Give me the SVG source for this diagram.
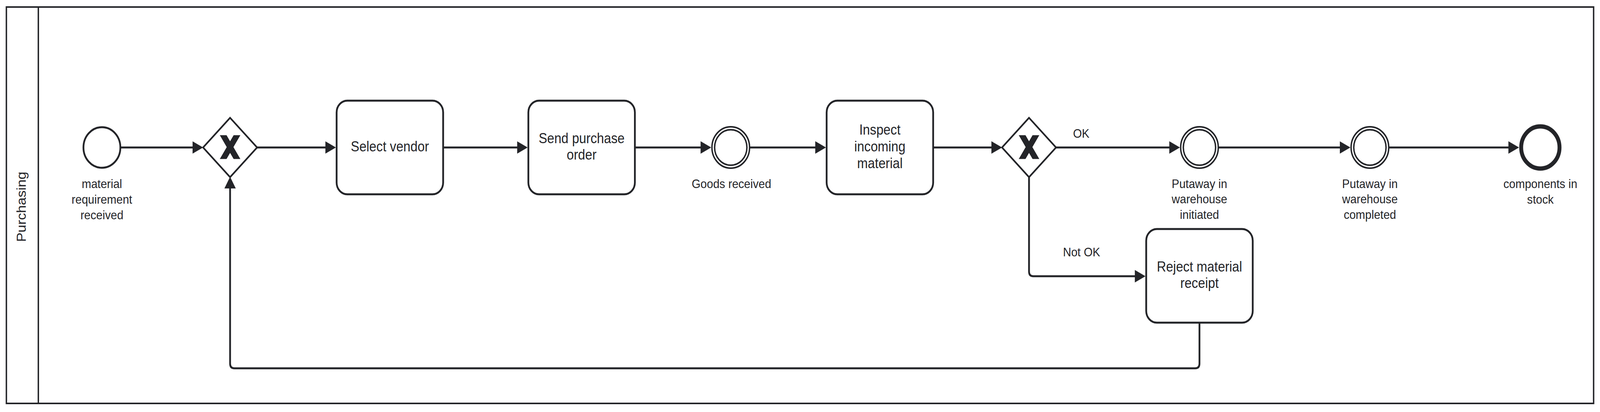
<svg xmlns="http://www.w3.org/2000/svg" xmlns:xlink="http://www.w3.org/1999/xlink" width="4506" height="1056" viewBox="0 0 4506 1056" preserveAspectRatio="none" style="width:100vw;height:100vh">
<style>
  .pool { fill: none; stroke: #232428; stroke-width: 4; }
  .task { fill: #ffffff; stroke: #232428; stroke-width: 5; }
  .gw { fill: #ffffff; stroke: #232428; stroke-width: 4.5; stroke-linejoin: miter; }
  .start { fill: #ffffff; stroke: #232428; stroke-width: 5; }
  .inter { fill: #ffffff; stroke: #232428; stroke-width: 4; }
  .end { fill: #ffffff; stroke: #232428; stroke-width: 11; }
  .flow { fill: none; stroke: #232428; stroke-width: 5; stroke-linejoin: round; marker-end: url(#arrow); }
  .xm { fill: none; stroke: #232428; stroke-width: 16; }
  text { font-family: "Liberation Sans", Arial, sans-serif; fill: #232428; text-anchor: middle; }
  .t36 { font-size: 36px; }
  .t32 { font-size: 32px; }
</style>
<defs>
  <marker id="arrow" markerUnits="userSpaceOnUse" markerWidth="30" markerHeight="32" refX="5" refY="16" orient="auto" viewBox="0 0 30 32">
    <path d="M0,0 L30,16 L0,32 Z" fill="#232428"/>
  </marker>
  <clipPath id="xclip"><rect x="-30" y="-30.5" width="60" height="61"/></clipPath>
  <g id="xmark" clip-path="url(#xclip)"><path class="xm" d="M-23.6,-37 L23.6,37 M23.6,-37 L-23.6,37"/></g>
</defs>

<g id="pool">
  <rect class="pool" x="18" y="18" width="4470" height="1016"/>
  <line class="pool" x1="108" y1="18" x2="108" y2="1034"/>
  <text class="t36" transform="translate(73,530) rotate(-90)">Purchasing</text>
</g>

<g id="connectors">
  <path class="flow" d="M340,378 H547"/>
  <path class="flow" d="M724,378 H921"/>
  <path class="flow" d="M1250,378 H1461"/>
  <path class="flow" d="M1790,378 H1978"/>
  <path class="flow" d="M2111,378 H2301"/>
  <path class="flow" d="M2630,378 H2797"/>
  <path class="flow" d="M2974,378 H3298"/>
  <path class="flow" d="M3431,378 H3778"/>
  <path class="flow" d="M3911,378 H4253"/>
  <path class="flow" d="M2898,453 V696 Q2898,708 2910,708 H3201"/>
  <path class="flow" d="M3378,829 V932 Q3378,944 3366,944 H660 Q648,944 648,932 V478"/>
  <text class="t32" x="3045" y="353">OK</text>
  <text class="t32" x="3046" y="657">Not OK</text>
</g>

<g id="start">
  <circle class="start" cx="287" cy="378" r="52"/>
  <text class="t32" x="287" y="482">material</text>
  <text class="t32" x="287" y="522">requirement</text>
  <text class="t32" x="287" y="562">received</text>
</g>

<g id="gateway1">
  <polygon class="gw" points="648,302 724,378 648,454 572,378"/>
  <use xlink:href="#xmark" x="648" y="377"/>
</g>

<g id="selectVendor">
  <rect class="task" x="948" y="258" width="300" height="240" rx="30" ry="30"/>
  <text class="t36" x="1098" y="388">Select vendor</text>
</g>

<g id="sendPO">
  <rect class="task" x="1488" y="258" width="300" height="240" rx="30" ry="30"/>
  <text class="t36" x="1638" y="367">Send purchase</text>
  <text class="t36" x="1638" y="409.5">order</text>
</g>

<g id="goodsReceived">
  <circle class="inter" cx="2058" cy="378" r="53"/>
  <circle class="inter" cx="2058" cy="378" r="45.5"/>
  <text class="t32" x="2060" y="482">Goods received</text>
</g>

<g id="inspect">
  <rect class="task" x="2328" y="258" width="300" height="240" rx="30" ry="30"/>
  <text class="t36" x="2478" y="345">Inspect</text>
  <text class="t36" x="2478" y="388">incoming</text>
  <text class="t36" x="2478" y="431">material</text>
</g>

<g id="gateway2">
  <polygon class="gw" points="2898,302 2974,378 2898,454 2822,378"/>
  <use xlink:href="#xmark" x="2898" y="377"/>
</g>

<g id="putawayInitiated">
  <circle class="inter" cx="3378" cy="378" r="53"/>
  <circle class="inter" cx="3378" cy="378" r="45.5"/>
  <text class="t32" x="3378" y="482">Putaway in</text>
  <text class="t32" x="3378" y="521.5">warehouse</text>
  <text class="t32" x="3378" y="561">initiated</text>
</g>

<g id="rejectReceipt">
  <rect class="task" x="3228" y="587" width="300" height="240" rx="30" ry="30"/>
  <text class="t36" x="3378" y="696">Reject material</text>
  <text class="t36" x="3378" y="738.5">receipt</text>
</g>

<g id="putawayCompleted">
  <circle class="inter" cx="3858" cy="378" r="53"/>
  <circle class="inter" cx="3858" cy="378" r="45.5"/>
  <text class="t32" x="3858" y="482">Putaway in</text>
  <text class="t32" x="3858" y="521.5">warehouse</text>
  <text class="t32" x="3858" y="561">completed</text>
</g>

<g id="endEvent">
  <circle class="end" cx="4338" cy="378" r="54"/>
  <text class="t32" x="4338" y="482">components in</text>
  <text class="t32" x="4338" y="522">stock</text>
</g>
</svg>
